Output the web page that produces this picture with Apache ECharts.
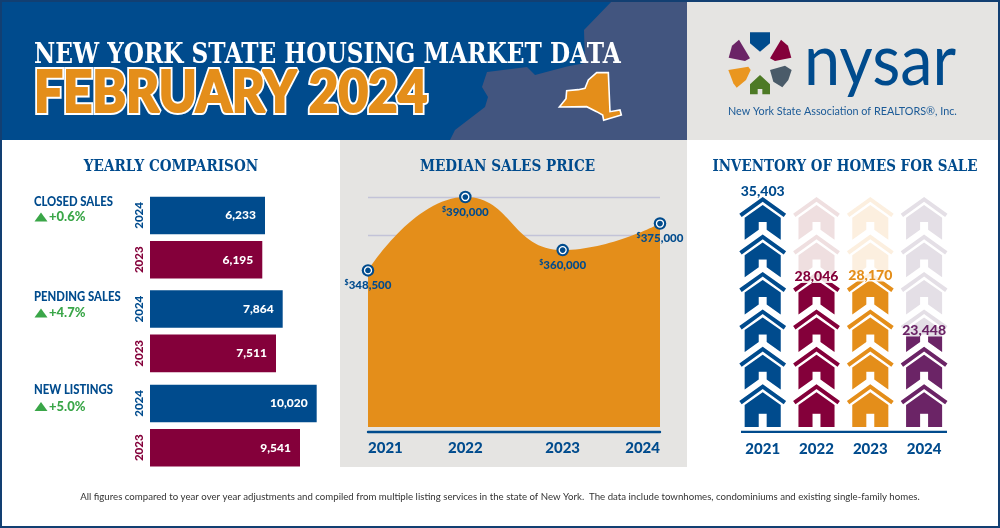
<!DOCTYPE html>
<html>
<head>
<meta charset="utf-8">
<title>New York State Housing Market Data</title>
<script src="https://cdn.jsdelivr.net/npm/echarts@6/dist/echarts.min.js"></script>
<style>
  html, body { margin: 0; padding: 0; background: #fff; }
  #main { width: 1000px; height: 528px; }
</style>
</head>
<body>
<div id="main"></div>
<script>
// yearly comparison
var barYears = ['2024', '2023'];
var closedSales = [6233, 6195];
var pendingSales = [7864, 7511];
var newListings = [10020, 9541];
var barNames = ['CLOSED SALES', 'PENDING SALES', 'NEW LISTINGS'];
var barChanges = ['+0.6%', '+4.7%', '+5.0%'];

// median sales price
var priceYears = ['2021', '2022', '2023', '2024'];
var medianPrices = [348500, 390000, 360000, 375000];

// inventory
var inventoryYears = ['2021', '2022', '2023', '2024'];
var inventoryHomes = [35403, 28046, 28170, 23448];

var BLUE = '#004b8d', MAROON = '#84003a', ORANGE = '#e48e1a', PURPLE = '#6b2466';
var SLAB = '"DejaVu Serif"', SANS = 'Lato';

var chart = echarts.init(document.getElementById('main'));

function num(v) { return v.toLocaleString('en-US'); }

function txt(text, x, y, font, fill, align, scaleX) {
  return {
    type: 'text', x: x, y: y, scaleX: scaleX || 1, z: 5,
    style: { text: text, font: font, fill: fill, align: align || 'left', verticalAlign: 'middle' }
  };
}
function poly(points, fill, stroke, width) {
  return {
    type: 'polygon', z: 1,
    shape: { points: points },
    style: { fill: fill, stroke: stroke || null, lineWidth: width || 0 }
  };
}
function box(x, y, w, h, fill) {
  return { type: 'rect', z: 0, shape: { x: x, y: y, width: w, height: h }, style: { fill: fill } };
}
function crop(ox, oy, pts) {
  return pts.map(function (p) { return [ox + p[0] / 3, oy + p[1] / 3]; });
}
// heavy outlined month line, white halo under a thickened orange face
function monthLine(text, stroke, width, z) {
  return {
    type: 'text', x: 34, y: 93, scaleX: 0.88, z: z,
    style: {
      text: text, font: '900 58px ' + SANS, fill: ORANGE, align: 'left', verticalAlign: 'middle',
      stroke: stroke, lineWidth: width, lineJoin: 'round'
    }
  };
}

var graphics = [
  box(0, 0, 1000, 528, '#fff'),
  box(0, 0, 687, 140, BLUE),
  box(687, 0, 313, 140, '#e5e4e2'),
  box(340, 140, 347, 327, '#e5e4e2'),
  poly([[613, 0], [584, 30], [585, 63], [567, 66.5], [535, 75], [527, 67], [487, 72], [482, 87], [488, 97], [485, 107],
    [455, 130], [450, 140], [687, 140], [687, 0]], '#42557f'),
  poly(crop(440, 0, [[358, 321], [378, 296], [380, 272], [415, 269], [435, 265], [445, 240], [470, 218], [505, 218],
    [510, 335], [540, 330], [544, 345], [491, 361], [488, 345], [470, 335], [440, 320]]), ORANGE, '#fff', 1.6),
  // logo
  poly(crop(720, 25, [[90, 22], [150, 22], [150, 55], [120, 80], [90, 55]]), BLUE),
  poly(crop(720, 25, [[183, 44], [204, 62], [214, 98], [165, 108], [150, 100]]), MAROON),
  poly(crop(720, 25, [[57, 44], [36, 62], [26, 98], [75, 108], [90, 100]]), PURPLE),
  poly(crop(720, 25, [[25, 135], [85, 125], [92, 135], [78, 165], [50, 188], [40, 175]]), '#ea961f'),
  poly(crop(720, 25, [[150, 135], [195, 122], [215, 135], [205, 165], [187, 187], [160, 170]]), '#4a5b69'),
  poly(crop(720, 25, [[120, 150], [150, 178], [150, 208], [127, 208], [127, 192], [113, 192], [113, 208], [90, 208], [90, 178]]), '#4d7a25'),
  // headings
  txt('NEW YORK STATE HOUSING MARKET DATA', 34, 55.5, 'bold 28px ' + SLAB, '#fff', 'left', 0.83),
  monthLine('FEBRUARY 2024', '#fff', 6, 5),
  monthLine('FEBRUARY 2024', ORANGE, 2, 6),
  txt('nysar', 804, 62, '400 72px ' + SANS, BLUE, 'left', 0.9),
  txt('New York State Association of REALTORS\u00ae, Inc.', 728, 111, '400 12px ' + SANS, '#1b5a97', 'left', 0.9),
  txt('YEARLY COMPARISON', 171, 167, 'bold 16px ' + SLAB, BLUE, 'center', 0.85),
  txt('MEDIAN SALES PRICE', 507.5, 167, 'bold 16px ' + SLAB, BLUE, 'center', 0.85),
  txt('INVENTORY OF HOMES FOR SALE', 845, 167, 'bold 16px ' + SLAB, BLUE, 'center', 0.84),
  txt('All figures compared to year over year adjustments and compiled from multiple listing services in the state of New York.  The data include townhomes, condominiums and existing single-family homes.',
    500, 497, '400 10px ' + SANS, '#333', 'center', 0.965),
  // axis under the houses
  box(741, 430.7, 206, 2.2, BLUE),
  // frame
  { type: 'rect', z: 9, shape: { x: 1, y: 1, width: 998, height: 526 }, style: { fill: null, stroke: '#123f72', lineWidth: 2 } }
];

var nameY = [201.5, 297, 390];
var changeY = [217, 313, 406.5];
barNames.forEach(function (name, i) {
  graphics.push(txt(name, 34, nameY[i], '900 13px ' + SANS, BLUE, 'left', 0.87));
  graphics.push(txt(barChanges[i], 49, changeY[i], '900 13px ' + SANS, '#3aa648', 'left'));
  graphics.push(poly([[34.5, changeY[i] + 4.5], [47.5, changeY[i] + 4.5], [41, changeY[i] - 4.5]], '#3aa648'));
});

// bar grids: each group has its own truncated scale, as in the original
var barGroups = [
  { data: closedSales, top: 193.3, min: 4623, max: 7003 },
  { data: pendingSales, top: 286.9, min: 871, max: 9830 },
  { data: newListings, top: 381.3, min: 5236, max: 10115 }
];

var grids = [], xAxes = [], yAxes = [], series = [];

barGroups.forEach(function (g, i) {
  grids.push({ left: 150, top: g.top, width: 170, height: 88.6 });
  xAxes.push({ gridIndex: i, type: 'value', min: g.min, max: g.max, show: false });
  yAxes.push({
    gridIndex: i, type: 'category', inverse: true, data: barYears,
    axisLine: { show: false }, axisTick: { show: false },
    axisLabel: {
      rotate: 90, margin: 5, fontFamily: SANS, fontWeight: 900, fontSize: 11.5,
      color: function (v) { return v === '2024' ? BLUE : MAROON; }
    }
  });
  series.push({
    type: 'bar', xAxisIndex: i, yAxisIndex: i, barWidth: 37.6,
    data: g.data.map(function (v, k) {
      return { value: v, itemStyle: { color: k === 0 ? BLUE : MAROON } };
    }),
    label: {
      show: true, position: 'insideRight', distance: 9, color: '#fff',
      fontFamily: SANS, fontWeight: 900, fontSize: 12,
      formatter: function (p) { return num(p.value); }
    }
  });
});

// median price area
grids.push({ left: 368, top: 197, width: 292, height: 230 });
xAxes.push({
  gridIndex: 3, type: 'category', boundaryGap: false, data: priceYears, offset: 5,
  axisLine: { lineStyle: { color: BLUE, width: 2.4 } }, axisTick: { show: false },
  axisLabel: {
    margin: 9, color: BLUE, fontFamily: SANS, fontWeight: 900, fontSize: 15,
    alignMinLabel: 'left', alignMaxLabel: 'right'
  }
});
var PRICE_MIN = 260000, PRICE_MAX = 390000;
yAxes.push({
  gridIndex: 3, type: 'value', min: PRICE_MIN, max: PRICE_MAX, interval: (PRICE_MAX - PRICE_MIN) / 6,
  axisLine: { show: false }, axisTick: { show: false }, axisLabel: { show: false },
  splitLine: {
    show: true,
    lineStyle: { width: 1.4, color: ['transparent', 'transparent', 'transparent', 'transparent', 'transparent', '#c3c3d8', '#c3c3d8'] }
  }
});
series.push({
  type: 'line', xAxisIndex: 3, yAxisIndex: 3, data: medianPrices, smooth: 0.5,
  symbol: 'circle', symbolSize: 12.5, showAllSymbol: true, z: 3,
  itemStyle: { color: BLUE }, lineStyle: { width: 0 }, areaStyle: { color: ORANGE, opacity: 1 }
});
series.push({
  type: 'scatter', xAxisIndex: 3, yAxisIndex: 3, data: medianPrices, z: 4,
  symbolSize: 7, itemStyle: { color: BLUE, borderColor: '#fff', borderWidth: 1.3, opacity: 1 },
  label: {
    show: true, position: 'bottom', distance: 5,
    formatter: function (p) { return '{d|$}{v|' + num(p.value) + '}'; },
    rich: {
      d: { fontSize: 7, fontFamily: SANS, fontWeight: 900, color: BLUE, verticalAlign: 'top' },
      v: { fontSize: 11.5, fontFamily: SANS, fontWeight: 900, color: BLUE }
    }
  }
});

// inventory houses
var houseColors = [BLUE, MAROON, ORANGE, PURPLE];
var ghostColors = ['#d7e2ee', '#efdfe0', '#fcefdf', '#e4dfe6'];
var HOUSE_W = 46.7, HOUSE_H = 42.7, HOUSE_COUNT = 6;
var INV_MIN = 15700, INV_MAX = 35403;
var ROOF = 'M70 0L140 50L133 60L70 14L7 60L0 50Z';
var TILE_PATH = ROOF + 'M70 24L124 62L124 128L82 98L82 75L58 75L58 98L16 128L16 62Z';
var FOOT_PATH = ROOF + 'M70 24L124 62L124 128L82 128L82 88L58 88L58 128L16 128L16 62Z';

function houseRow(api, i, colors) {
  var base = api.coord([i, INV_MIN]);
  var top = api.coord([i, INV_MAX])[1];
  var pitch = (base[1] - top - HOUSE_H) / (HOUSE_COUNT - 1);
  var list = [];
  for (var n = 0; n < HOUSE_COUNT; n++) {
    list.push({
      type: 'path',
      shape: {
        pathData: n === 0 ? FOOT_PATH : TILE_PATH, layout: 'cover',
        x: base[0] - HOUSE_W / 2, y: base[1] - HOUSE_H - n * pitch, width: HOUSE_W, height: HOUSE_H
      },
      style: { fill: colors[i] }
    });
  }
  return list;
}

grids.push({ left: 735.8, top: 197, width: 215.2, height: 230 });
xAxes.push({
  gridIndex: 4, type: 'category', data: inventoryYears, offset: 5,
  axisLine: { show: false }, axisTick: { show: false },
  axisLabel: { margin: 10, color: BLUE, fontFamily: SANS, fontWeight: 900, fontSize: 15 }
});
yAxes.push({ gridIndex: 4, type: 'value', min: INV_MIN, max: INV_MAX, show: false });

series.push({
  type: 'custom', xAxisIndex: 4, yAxisIndex: 4, z: 2, silent: true, clip: false,
  data: inventoryHomes.map(function (v, i) { return [i, v]; }),
  renderItem: function (params, api) {
    return { type: 'group', children: houseRow(api, api.value(0), ghostColors) };
  }
});
series.push({
  type: 'custom', xAxisIndex: 4, yAxisIndex: 4, z: 3, silent: true, clip: false,
  data: inventoryHomes.map(function (v, i) { return [i, v]; }),
  renderItem: function (params, api) {
    var i = api.value(0);
    var p = api.coord([i, api.value(1)]);
    var base = api.coord([i, INV_MIN]);
    return {
      type: 'group',
      children: [{
        type: 'group',
        clipPath: { type: 'rect', shape: { x: p[0] - 30, y: p[1], width: 60, height: base[1] - p[1] } },
        children: houseRow(api, i, houseColors)
      }, {
        type: 'text', x: p[0], y: p[1] + 1,
        style: {
          text: num(api.value(1)), fill: houseColors[i], align: 'center', verticalAlign: 'bottom',
          font: '900 14px ' + SANS
        }
      }]
    };
  }
});

chart.setOption({
  animation: false,
  grid: grids,
  xAxis: xAxes,
  yAxis: yAxes,
  series: series,
  graphic: { elements: graphics }
});
</script>
</body>
</html>
